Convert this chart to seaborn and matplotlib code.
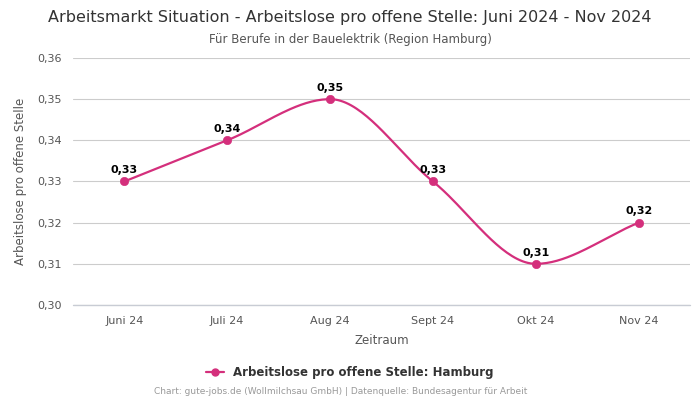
import numpy as np
import pandas as pd
import matplotlib
matplotlib.use("Agg")
import matplotlib.pyplot as plt
import seaborn as sns
from matplotlib.lines import Line2D

# =========================================================
# DATA
# =========================================================
months = ["Juni 24", "Juli 24", "Aug 24", "Sept 24", "Okt 24", "Nov 24"]
values = [0.33, 0.34, 0.35, 0.33, 0.31, 0.32]
y_ticks = [0.30, 0.31, 0.32, 0.33, 0.34, 0.35, 0.36]

LINE_COLOR = "#d42f7c"
GRAY = "#555555"

df = pd.DataFrame({"Zeitraum": months, "Wert": values})
df["pos"] = np.arange(len(df))


# monotone cubic curve between the points (render only, like the smooth line in the source)
def monotone_curve(x, y, n=40):
    x = np.asarray(x, float)
    y = np.asarray(y, float)
    h = np.diff(x)
    d = np.diff(y) / h
    m = np.zeros_like(y)
    m[0], m[-1] = d[0], d[-1]
    for i in range(1, len(y) - 1):
        if d[i - 1] * d[i] <= 0:
            m[i] = 0.0
        else:
            m[i] = (d[i - 1] + d[i]) / 2
    for i in range(len(d)):
        if d[i] == 0:
            m[i] = m[i + 1] = 0
            continue
        a, b = m[i] / d[i], m[i + 1] / d[i]
        s = a * a + b * b
        if s > 9:
            t = 3 / np.sqrt(s)
            m[i], m[i + 1] = t * a * d[i], t * b * d[i]
    xs, ys = [], []
    for i in range(len(d)):
        t = np.linspace(0, 1, n)
        h00 = 2 * t**3 - 3 * t**2 + 1
        h10 = t**3 - 2 * t**2 + t
        h01 = -2 * t**3 + 3 * t**2
        h11 = t**3 - t**2
        xs.append(x[i] + t * h[i])
        ys.append(h00 * y[i] + h10 * h[i] * m[i] + h01 * y[i + 1] + h11 * h[i] * m[i + 1])
    return np.concatenate(xs), np.concatenate(ys)


cx, cy = monotone_curve(df["pos"], df["Wert"])

# =========================================================
# PLOT
# =========================================================
sns.set_style("white")
plt.rcParams["font.family"] = ["DejaVu Sans"]

fig = plt.figure(figsize=(7, 4), dpi=100)
ax = fig.add_axes([0.104, 0.2375, 0.882, 0.6175])

sns.lineplot(x=cx, y=cy, ax=ax, color=LINE_COLOR, linewidth=1.6, sort=False)
sns.scatterplot(data=df, x="pos", y="Wert", ax=ax, color=LINE_COLOR, s=36,
                edgecolor=LINE_COLOR, zorder=5)

for _, r in df.iterrows():
    ax.annotate(f"{r['Wert']:.2f}".replace(".", ","), (r["pos"], r["Wert"]),
                xytext=(0, 4.5), textcoords="offset points", ha="center", va="bottom",
                fontsize=8, fontweight="bold", color="black")

ax.set_xlim(-0.5, len(months) - 0.5)
ax.set_ylim(0.30, 0.36)
ax.set_xticks(df["pos"])
ax.set_xticklabels(months)
ax.set_yticks(y_ticks)
ax.set_yticklabels([f"{v:.2f}".replace(".", ",") for v in y_ticks])
ax.tick_params(axis="both", length=0, labelsize=8, colors=GRAY, pad=8)
ax.yaxis.grid(True, color="#cccccc", linewidth=0.8)
ax.xaxis.grid(False)
ax.axhline(y_ticks[0], color="#c8ccd4", linewidth=1.0, clip_on=False, zorder=0.5)
for s in ax.spines.values():
    s.set_visible(False)

ax.set_xlabel("Zeitraum", fontsize=8.5, color=GRAY, labelpad=6)
ax.set_ylabel("Arbeitslose pro offene Stelle", fontsize=8.5, color=GRAY, labelpad=7)

fig.text(0.5, 0.957, "Arbeitsmarkt Situation - Arbeitslose pro offene Stelle: Juni 2024 - Nov 2024",
         ha="center", va="center", fontsize=11.5, color="#333333")
fig.text(0.5, 0.902, "Für Berufe in der Bauelektrik (Region Hamburg)",
         ha="center", va="center", fontsize=8.5, color=GRAY)

handle = Line2D([0], [0], color=LINE_COLOR, marker="o", markersize=5, linewidth=1.6)
fig.legend([handle], ["Arbeitslose pro offene Stelle: Hamburg"], loc="center",
           bbox_to_anchor=(0.5, 0.068), frameon=False, handlelength=1.5,
           prop={"weight": "bold", "size": 8.5}, labelcolor="#333333")

fig.text(0.486, 0.02, "Chart: gute-jobs.de (Wollmilchsau GmbH) | Datenquelle: Bundesagentur für Arbeit",
         ha="center", va="center", fontsize=6.5, color="#999999")

fig.savefig("out.png", dpi=100)
